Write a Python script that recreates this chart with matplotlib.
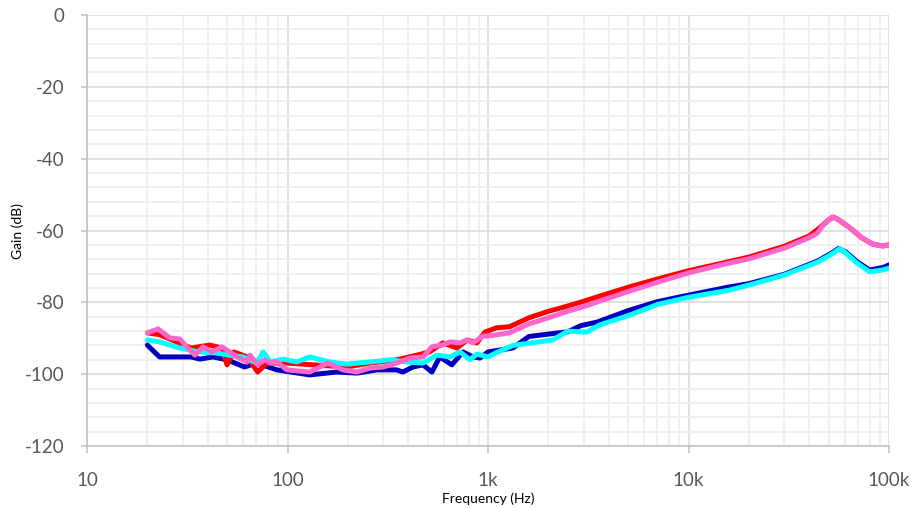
import numpy as np
import matplotlib
matplotlib.use("Agg")
import matplotlib.pyplot as plt
from matplotlib.ticker import FixedLocator, LogLocator, NullFormatter, MultipleLocator

plt.rcParams["font.family"] = ["Lato", "DejaVu Sans"]
plt.rcParams["axes.unicode_minus"] = False

# gain curves, four measurements (Hz, dB)
freq_blue = [20, 23, 29, 33, 36.6, 42.5, 50, 61, 70, 88.6, 129, 176, 222, 279, 350, 376, 422,
             474, 525, 575, 660, 750, 842, 912, 1000, 1330, 1600, 2100, 2500, 2900, 3500,
             5000, 7000, 10000, 16000, 20000, 30000, 44000, 51000, 56000, 61000, 69000,
             80000, 93000, 100000]
gain_blue = [-91.9, -95.2, -95.2, -95.2, -95.8, -95.2, -96.0, -98.0, -96.9, -98.8, -100.2,
             -99.4, -99.7, -98.8, -98.8, -99.4, -98.0, -97.4, -99.4, -95.2, -97.4, -93.8,
             -95.2, -95.5, -93.8, -92.7, -89.5, -88.7, -88.2, -86.5, -85.5, -82.3, -79.8,
             -78.0, -75.7, -74.8, -72.2, -68.5, -66.5, -65.0, -66.0, -68.6, -71.0, -70.3,
             -69.6]

freq_red = [20, 23, 28, 33, 41, 47, 50, 54, 63, 71, 79, 99, 134, 197, 258, 350, 442, 512,
            595, 700, 786, 880, 964, 1100, 1280, 1600, 2000, 2400, 3000, 3500, 5000, 7000,
            10000, 15000, 20000, 30000, 40000, 45000, 50000, 53000, 56000, 64000, 73000,
            83000, 93000, 100000]
gain_red = [-88.5, -89.0, -91.0, -92.7, -91.9, -92.7, -97.4, -93.8, -95.2, -99.4, -96.9,
            -96.9, -97.4, -98.0, -96.9, -96.0, -94.7, -93.8, -91.3, -92.7, -90.5, -91.3,
            -88.3, -87.1, -86.8, -84.3, -82.5, -81.3, -79.7, -78.5, -75.8, -73.5, -71.2,
            -69.0, -67.4, -64.4, -61.5, -59.3, -57.0, -56.3, -57.0, -59.3, -62.0, -63.8,
            -64.3, -64.0]

freq_cyan = [20, 23, 29, 36, 44, 51, 60, 70, 75.6, 82, 95, 111, 129, 163, 197, 258, 324, 394,
             474, 556, 647, 725, 812, 880, 1000, 1100, 1330, 2100, 2500, 3100, 3600, 5000,
             7000, 10000, 16000, 20000, 30000, 44000, 51000, 57000, 61000, 69000, 80000,
             93000, 100000]
gain_cyan = [-90.5, -91.0, -92.7, -93.8, -94.1, -94.7, -95.2, -96.9, -93.8, -96.6, -95.8,
             -96.6, -95.2, -96.6, -97.2, -96.6, -96.0, -96.6, -96.9, -94.7, -95.2, -93.8,
             -96.0, -94.4, -95.2, -94.0, -92.0, -90.5, -88.0, -88.3, -86.3, -83.7, -80.6,
             -78.6, -76.6, -75.2, -72.4, -68.8, -66.8, -65.0, -66.3, -69.0, -71.5, -71.0,
             -70.5]

freq_pink = [20, 22.6, 25.9, 29, 31.9, 34.5, 37.9, 42, 47, 51.7, 56, 62.8, 65, 71, 77, 82,
             88.6, 99.3, 129, 159, 189, 222, 258, 300, 350, 410, 474, 525, 590, 647, 725,
             786, 842, 943, 1000, 1280, 1600, 2000, 2400, 3000, 3500, 5000, 7000, 10000,
             15000, 20000, 30000, 40000, 44000, 47000, 52000, 56000, 64000, 73000, 83000,
             93000, 100000]
gain_pink = [-88.5, -87.4, -89.9, -90.2, -92.7, -94.7, -92.4, -93.8, -92.4, -93.8, -95.2,
             -96.6, -94.7, -97.4, -96.0, -96.9, -96.6, -98.8, -99.4, -96.9, -98.8, -99.4,
             -98.3, -98.0, -96.9, -95.5, -95.2, -92.4, -91.9, -91.0, -91.3, -90.5, -91.3,
             -89.4, -89.4, -88.5, -86.0, -84.3, -82.8, -81.2, -79.9, -77.0, -74.4, -71.8,
             -69.4, -67.9, -64.9, -62.0, -60.7, -58.5, -56.2, -57.0, -59.3, -62.0, -63.8,
             -64.3, -64.0]

x_ticks = [10, 100, 1000, 10000, 100000]
x_labels = ["10", "100", "1k", "10k", "100k"]
y_ticks = [0, -20, -40, -60, -80, -100, -120]

series = [
    (freq_blue, gain_blue, "#0000c0"),
    (freq_red, gain_red, "#ff0000"),
    (freq_cyan, gain_cyan, "#00ffff"),
    (freq_pink, gain_pink, "#ff66cc"),
]

fig = plt.figure(figsize=(9.15, 5.08), dpi=100)
ax = fig.add_axes([0.0951, 0.122, 0.8765, 0.8485])

for f, g, col in series:
    ax.plot(f, g, color=col, lw=3.6, solid_joinstyle="round", solid_capstyle="round", zorder=3)

ax.set_xscale("log")
ax.set_xlim(10, 100000)
ax.set_ylim(-120, 0)

ax.xaxis.set_major_locator(FixedLocator(x_ticks))
ax.set_xticklabels(x_labels)
ax.xaxis.set_minor_locator(LogLocator(base=10, subs=np.arange(2, 10)))
ax.xaxis.set_minor_formatter(NullFormatter())
ax.yaxis.set_major_locator(FixedLocator(y_ticks))
ax.yaxis.set_minor_locator(MultipleLocator(4))

ax.grid(which="minor", color="#f0f0f0", lw=1.4, zorder=0)
ax.grid(which="major", color="#d9d9d9", lw=1.1, zorder=1)
ax.set_axisbelow(True)

for s in ("top", "right"):
    ax.spines[s].set_visible(False)
for s in ("left", "bottom"):
    ax.spines[s].set_color("#bfbfbf")
    ax.spines[s].set_linewidth(1.1)

ax.tick_params(which="major", axis="y", length=4.5, width=1.1, color="#bfbfbf",
               labelsize=13.5, labelcolor="#595959", pad=12)
ax.tick_params(which="major", axis="x", length=5, width=1.1, color="#bfbfbf",
               labelsize=13.5, labelcolor="#595959", pad=14)
ax.tick_params(which="minor", length=0)

ax.set_xlabel("Frequency (Hz)", fontsize=10, color="#000000", va="center")
ax.set_ylabel("Gain (dB)", fontsize=10, color="#000000", va="center")
ax.xaxis.set_label_coords(0.5, -0.123)
ax.yaxis.set_label_coords(-0.086, 0.5)

fig.savefig("out.png", dpi=100)
